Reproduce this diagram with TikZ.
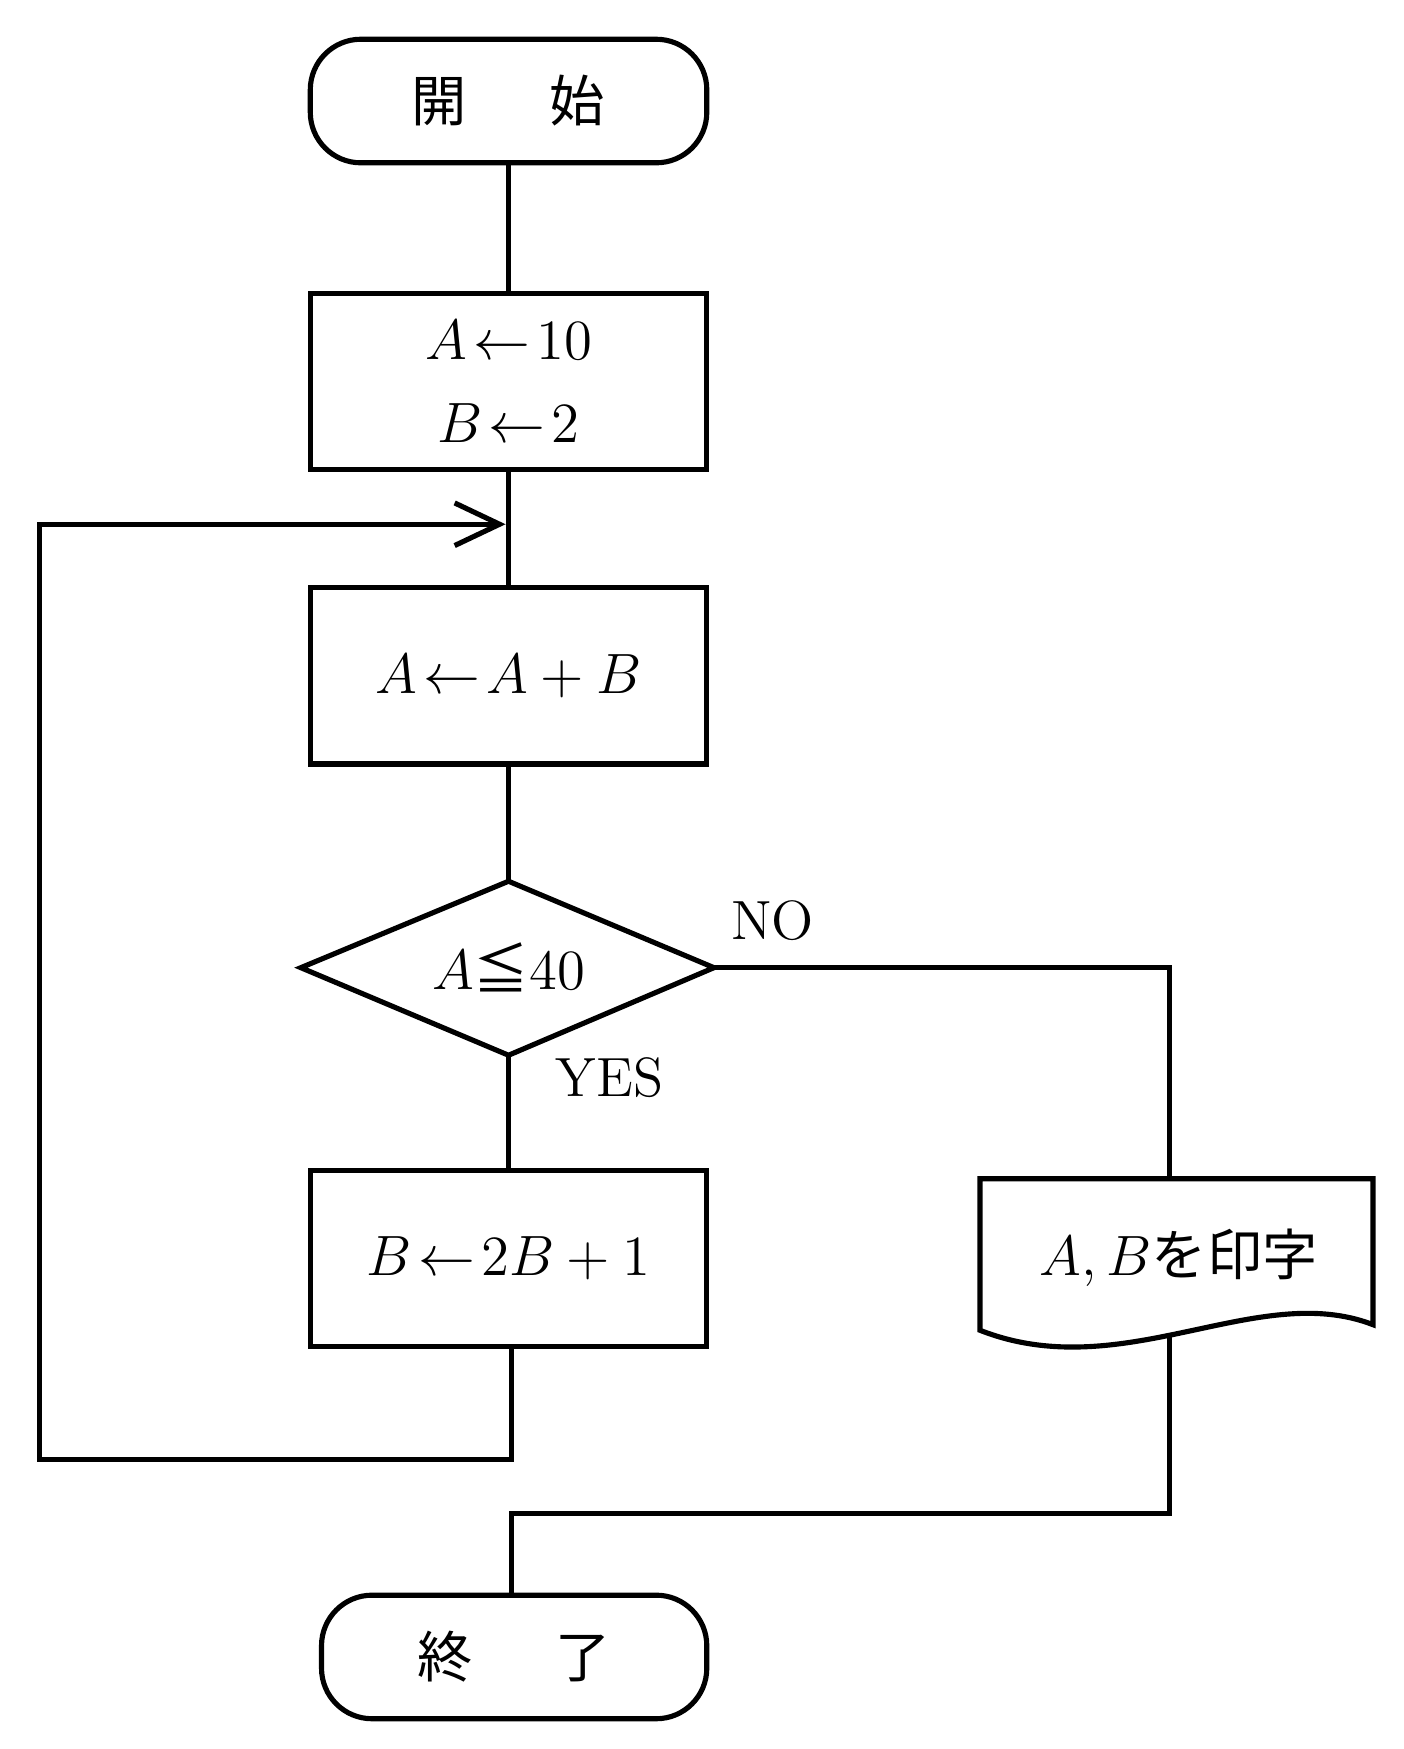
\documentclass[tikz,border=0pt]{standalone}
\usepackage{fontspec}
\newfontfamily\cjk{Noto Sans CJK JP}
\usetikzlibrary{arrows.meta}
\begin{document}
\begin{tikzpicture}[x=0.01cm,y=-0.01cm,line width=1.3pt,
  box/.style={draw,minimum width=3.53cm,minimum height=1.57cm,inner sep=0pt},
  term/.style={draw,rounded corners=0.45cm,minimum height=1.1cm,inner sep=0pt},
  lab/.style={font=\fontsize{14}{17}\selectfont}]
\useasboundingbox (0,0) rectangle (1250,1558);
\node[term,minimum width=3.53cm,lab] (start) at (453,90) {\cjk 開\hspace{1.5em}始};
\node[box,lab,align=center] (b1) at (453,340) {$A\!\leftarrow\!10$\\[4pt]$B\!\leftarrow\!2$};
\node[box,lab] (b2) at (453,602) {$A\!\leftarrow\!A+B$};
\draw (453,785) coordinate (dt) -- (636,862) coordinate (dr) -- (453,940) coordinate (db) -- (268,862) -- cycle;
\node[lab] (cond) at (453,862) {$A${\cjk ≦}$40$};
\node[box,lab] (b3) at (453,1121) {$B\!\leftarrow\!2B+1$};
\node[term,minimum width=3.43cm,lab] (end) at (458,1476) {\cjk 終\hspace{1.5em}了};
\draw (873,1050) -- (1223,1050) -- (1223,1180) .. controls (1120,1140) and (1000,1235) .. (873,1185) -- cycle;
\node[lab] (pr) at (1050,1120) {$A,B${\cjk を印字}};
\node[lab] (no) at (688,820) {NO};
\node[lab] (yes) at (543,960) {YES};
\draw (start) -- (b1);
\draw (b1) -- (b2);
\draw (b2) -- (dt);
\draw (db) -- (b3);
\draw (dr) -| (1042,1050);
\draw (456,1200) -- (456,1300) -- (35,1300) -- (35,467) -- (445,467);
\draw (405,448) -- (445,467) -- (405,486);
\draw (1042,1190) -- (1042,1348) -- (456,1348) -- (end.north -| 456,0);
\end{tikzpicture}
\end{document}
